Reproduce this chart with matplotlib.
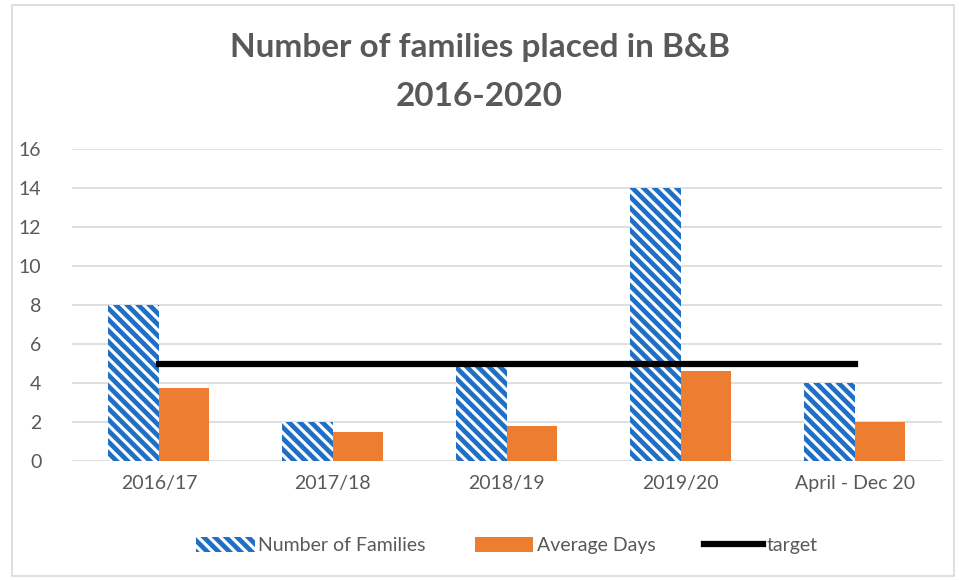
import numpy as np
import matplotlib.pyplot as plt
from matplotlib.patches import Rectangle

categories = ["2016/17", "2017/18", "2018/19", "2019/20", "April - Dec 20"]
families = [8, 2, 5, 14, 4]
avg_days = [3.75, 1.5, 1.8, 4.6, 2.0]
target = [5, 5, 5, 5, 5]

plt.rcParams['font.family'] = ['Lato', 'DejaVu Sans']
plt.rcParams['hatch.linewidth'] = 3.4
plt.rcParams['hatch.color'] = '#1f6fc6'

grey = '#595959'
blue = '#1f6fc6'
orange = '#ed7d31'

fig = plt.figure(figsize=(9.59, 5.8), dpi=100)
fig.patches.append(Rectangle((0.013, 0.007), 0.982, 0.985, transform=fig.transFigure,
                             fill=False, edgecolor='#d9d9d9', linewidth=1.2))
ax = fig.add_axes([0.075, 0.205, 0.907, 0.538])

x = np.arange(len(categories))
w = 0.29
fam = ax.bar(x - w / 2, families, w, color='white', edgecolor=blue, linewidth=0,
             hatch='\\\\\\', label='Number of Families', zorder=2)
avg = ax.bar(x + w / 2, avg_days, w, color=orange, label='Average Days', zorder=2)
tgt, = ax.plot(x, target, color='black', linewidth=4.5, label='target', zorder=3)

ax.set_xlim(-0.5, len(categories) - 0.5)
ax.set_ylim(0, 16)
ax.set_yticks(range(0, 17, 2))
ax.set_xticks(x)
ax.set_xticklabels(categories)
ax.yaxis.grid(True, color='#d9d9d9', linewidth=1.2, zorder=0)
ax.set_axisbelow(True)
for s in ax.spines.values():
    s.set_visible(False)
ax.tick_params(axis='both', length=0, labelsize=14, colors=grey, pad=10)
ax.tick_params(axis='y', pad=22)

fig.text(0.5, 0.918, "Number of families placed in B&B", ha='center', va='center',
         fontsize=24, fontweight='bold', color=grey)
fig.text(0.5, 0.833, "2016-2020", ha='center', va='center',
         fontsize=24, fontweight='bold', color=grey)

leg = ax.legend([fam, avg, tgt], ['Number of Families', 'Average Days', 'target'],
                loc='center', bbox_to_anchor=(0.5, -0.27), ncol=3, frameon=False,
                fontsize=14, handlelength=3.0, handleheight=0.8, columnspacing=2.5,
                handletextpad=0.2)
for t in leg.get_texts():
    t.set_color(grey)

fig.savefig('out.png', dpi=100)
